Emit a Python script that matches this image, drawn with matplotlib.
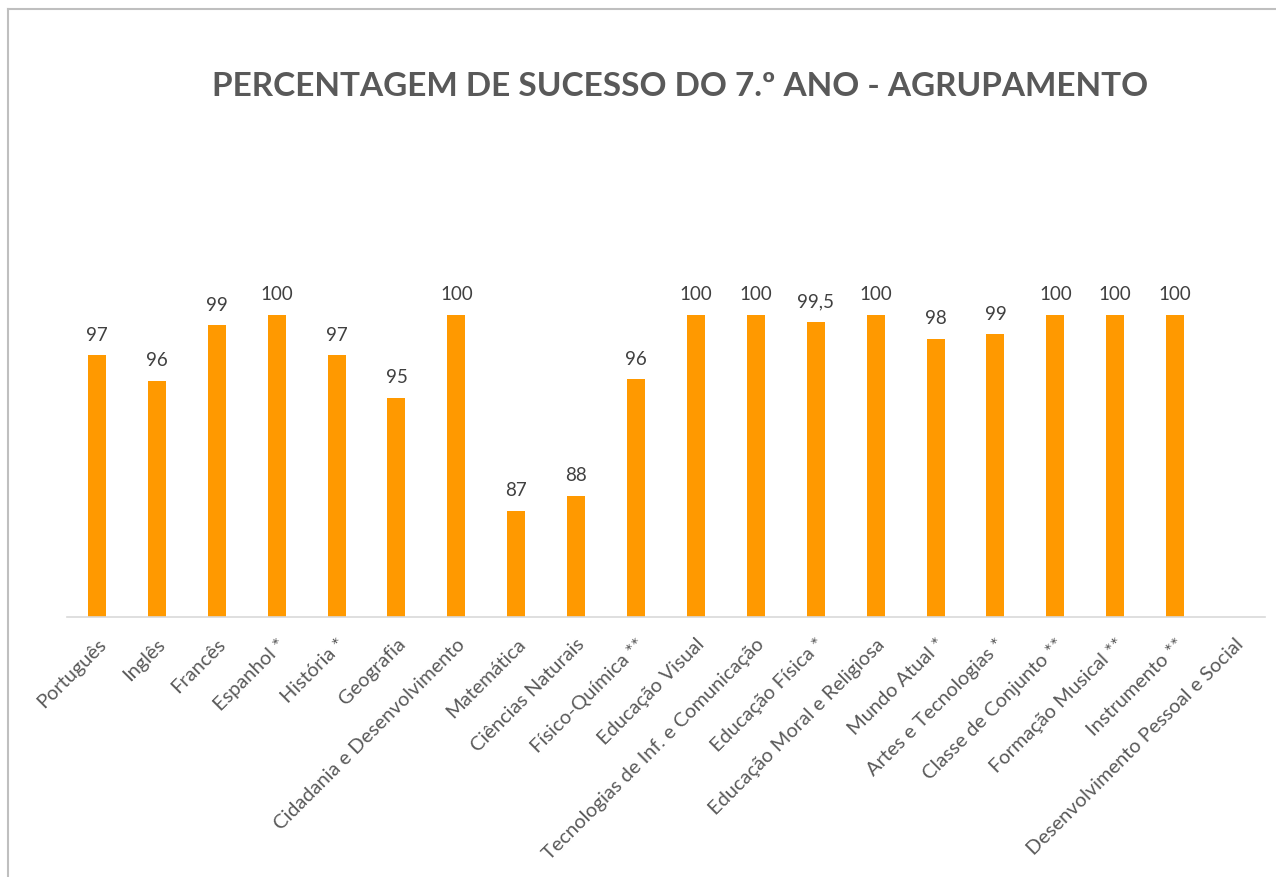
import matplotlib
matplotlib.use('Agg')
import matplotlib.pyplot as plt
from matplotlib.lines import Line2D
import numpy as np

plt.rcParams['font.family'] = ['Lato', 'DejaVu Sans']

# disciplinas e percentagens
disciplinas = ['Português', 'Inglês', 'Francês', 'Espanhol *', 'História *', 'Geografia',
               'Cidadania e Desenvolvimento', 'Matemática', 'Ciências Naturais',
               'Físico-Química **', 'Educação Visual', 'Tecnologias de Inf. e Comunicação',
               'Educação Física *', 'Educação Moral e Religiosa', 'Mundo Atual *',
               'Artes e Tecnologias *', 'Classe de Conjunto **', 'Formação Musical **',
               'Instrumento **', 'Desenvolvimento Pessoal e Social']
sucesso = [97.3, 95.6, 99.3, 100, 97.3, 94.5, 100, 87.0, 88.0, 95.7, 100, 100, 99.5, 100,
           98.4, 98.7, 100, 100, 100, np.nan]
rotulos = ['97', '96', '99', '100', '97', '95', '100', '87', '88', '96', '100', '100',
           '99,5', '100', '98', '99', '100', '100', '100', '']

fig = plt.figure(figsize=(12.76, 8.78), dpi=100)
ax = fig.add_axes([0.0525, 0.2965, 0.9389, 0.4302])

x = np.arange(len(disciplinas))
barras = ax.bar(x, sucesso, width=0.3, color='#FF9900', zorder=2)

for xi, v, r in zip(x, sucesso, rotulos):
    if r:
        ax.annotate(r, (xi, v), xytext=(0, 9), textcoords='offset points',
                    ha='center', va='bottom', fontsize=13.5, color='#404040')

ax.set_xlim(-0.5, len(disciplinas) - 0.5)
ax.set_ylim(80, 105)
ax.set_yticks([])
ax.set_xticks(x)
ax.set_xticklabels(disciplinas, rotation=45, ha='right', va='top',
                   rotation_mode='anchor', fontsize=14.4, color='#595959')
ax.tick_params(axis='x', length=0, pad=13)
for s in ['top', 'right', 'left']:
    ax.spines[s].set_visible(False)
ax.spines['bottom'].set_color('#D9D9D9')
ax.spines['bottom'].set_linewidth(1.2)

fig.text(0.533, 0.901, 'PERCENTAGEM DE SUCESSO DO 7.º ANO - AGRUPAMENTO',
         ha='center', va='center', fontsize=24, fontweight='bold', color='#595959')

# moldura do gráfico (só topo e esquerda ficaram no recorte)
fig.add_artist(Line2D([7.5 / 1276, 1], [1 - 9.5 / 878, 1 - 9.5 / 878], color='#BFBFBF', lw=1.5))
fig.add_artist(Line2D([7.5 / 1276, 7.5 / 1276], [0, 1 - 9.5 / 878], color='#BFBFBF', lw=1.5))

fig.savefig('out.png', dpi=100)
